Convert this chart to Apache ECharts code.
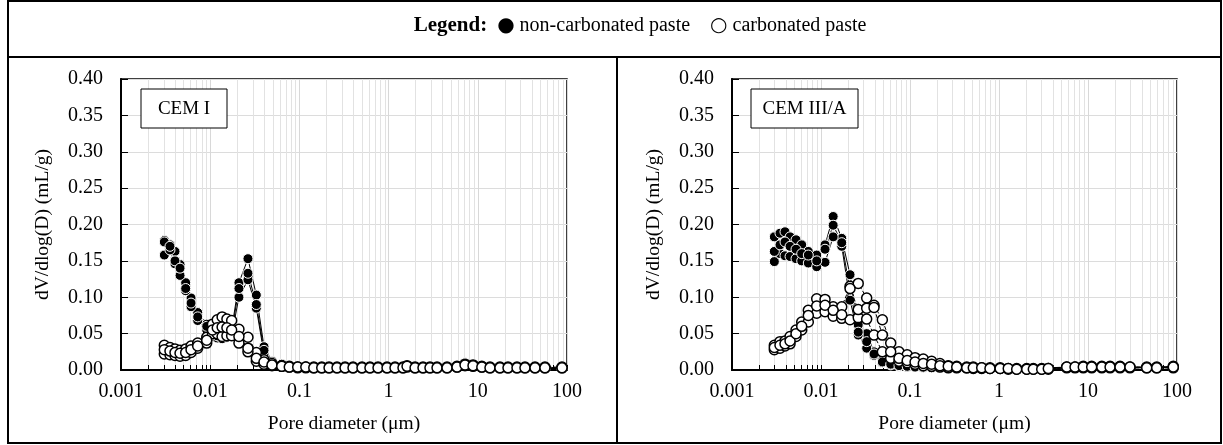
<!DOCTYPE html>
<html><head><meta charset="utf-8">
<script src="https://cdn.jsdelivr.net/npm/echarts@6/dist/echarts.min.js"></script>
<style>html,body{margin:0;padding:0;background:#fff}#c{width:1223px;height:445px}</style>
</head><body><div id="c"></div>
<script>
// ---------------- DATA ----------------
var xTicks = [0.001, 0.01, 0.1, 1, 10, 100];
var yTicks = [0, 0.05, 0.10, 0.15, 0.20, 0.25, 0.30, 0.35, 0.40];
var panelLabels = ['CEM I', 'CEM III/A'];
var legendNames = ['non-carbonated paste', 'carbonated paste'];

// CEM I pore diameters (µm)
var diamCEMI = [0.00306,0.00354,0.00403,0.00459,0.00531,0.0061,0.00724,0.00914,0.0106,0.0120,
  0.0136,0.0154,0.0174,0.0210,0.0265,0.0329,0.0401,0.0493,0.0634,0.077,
  0.0957,0.118,0.145,0.178,0.215,0.264,0.325,0.399,0.503,0.618,
  0.761,0.960,1.18,1.45,1.61,1.98,2.43,2.91,3.49,4.52,
  5.85,7.19,8.84,11.1,13.7,17.7,21.8,27.5,33.8,43.8,
  56.6,87.9];
var ncCEMI_1 = [0.178,0.172,0.163,0.145,0.120,0.099,0.079,0.063,0.053,0.050,0.049,0.050,0.056,0.120,0.153,0.103,0.032,0.012,
  0.008,0.006,0.005,0.004,0.004,0.004,0.003,0.003,0.003,0.003,
  0.003,0.003,0.003,0.003,0.003,0.004,0.005,0.003,0.003,0.004,
  0.002,0.002,0.006,0.010,0.008,0.004,0.003,0.003,0.003,0.003,
  0.003,0.002,0.002,0.003];
var ncCEMI_2 = [0.158,0.165,0.146,0.130,0.109,0.087,0.068,0.055,0.046,0.044,0.043,0.045,0.048,0.100,0.124,0.085,0.022,0.009,
  0.007,0.005,0.004,0.004,0.003,0.003,0.003,0.003,0.002,0.002,
  0.002,0.002,0.002,0.002,0.002,0.003,0.003,0.002,0.002,0.003,
  0.002,0.003,0.004,0.007,0.006,0.003,0.002,0.002,0.002,0.002,
  0.002,0.002,0.002,0.002];
var ncCEMI_3 = [0.176,0.170,0.150,0.140,0.112,0.092,0.073,0.060,0.049,0.047,0.046,0.047,0.052,0.112,0.133,0.090,0.027,0.010,
  0.008,0.006,0.005,0.004,0.004,0.003,0.003,0.003,0.003,0.003,
  0.003,0.003,0.003,0.003,0.003,0.003,0.004,0.003,0.003,0.003,
  0.003,0.002,0.005,0.009,0.007,0.004,0.003,0.003,0.003,0.003,
  0.003,0.002,0.002,0.003];
var cCEMI_1 = [0.034,0.031,0.029,0.027,0.029,0.033,0.037,0.045,0.063,0.069,0.073,0.070,0.068,0.056,0.045,0.024,0.014,0.009,
  0.006,0.005,0.004,0.004,0.004,0.004,0.004,0.004,0.004,0.004,
  0.004,0.004,0.004,0.004,0.004,0.004,0.006,0.004,0.004,0.004,
  0.004,0.004,0.005,0.008,0.007,0.005,0.004,0.004,0.004,0.004,
  0.004,0.004,0.004,0.004];
var cCEMI_2 = [0.022,0.021,0.020,0.019,0.020,0.024,0.030,0.037,0.050,0.050,0.046,0.047,0.047,0.037,0.025,0.012,0.008,0.006,
  0.005,0.004,0.003,0.003,0.003,0.003,0.003,0.003,0.003,0.003,
  0.003,0.003,0.003,0.003,0.003,0.003,0.004,0.003,0.003,0.003,
  0.003,0.003,0.004,0.006,0.005,0.004,0.003,0.003,0.003,0.003,
  0.003,0.003,0.003,0.003];
var cCEMI_3 = [0.028,0.026,0.024,0.023,0.024,0.028,0.033,0.041,0.055,0.058,0.059,0.058,0.055,0.046,0.030,0.016,0.011,0.007,
  0.005,0.004,0.004,0.004,0.003,0.003,0.003,0.003,0.003,0.003,
  0.003,0.003,0.003,0.003,0.003,0.003,0.005,0.003,0.003,0.003,
  0.003,0.003,0.004,0.007,0.006,0.004,0.003,0.003,0.003,0.003,
  0.003,0.003,0.003,0.003];

// CEM III/A pore diameters (µm)
var diamCEMIII = [0.00299,0.00346,0.00394,0.00449,0.00524,0.00607,0.0072,0.00895,0.0111,0.0137,
  0.0171,0.0212,0.0262,0.0326,0.0394,0.0489,0.0607,0.0752,0.093,0.114,
  0.141,0.175,0.217,0.269,0.335,0.434,0.514,0.639,0.792,1.03,
  1.27,1.58,2.05,2.43,3.02,3.58,5.77,7.15,8.85,11.0,
  14.3,17.7,22.9,29.6,45.7,59.2,90.8];
var ncCEMIII_1 = [0.183,0.188,0.190,0.183,0.179,0.172,0.163,0.158,0.172,0.211,
  0.181,0.131,0.062,0.050,0.025,0.013,0.009,0.007,0.006,0.005,
  0.004,0.004,0.004,0.003,0.003,0.003,0.003,0.003,0.002,0.002,
  0.002,0.002,0.002,0.002,0.002,0.003,0.004,0.004,0.005,0.005,
  0.005,0.005,0.005,0.004,0.004,0.004,0.005];
var ncCEMIII_2 = [0.149,0.160,0.157,0.156,0.153,0.150,0.147,0.142,0.148,0.183,
  0.170,0.096,0.048,0.030,0.020,0.010,0.007,0.005,0.004,0.004,
  0.003,0.003,0.003,0.002,0.002,0.002,0.002,0.002,0.001,0.001,
  0.001,0.001,0.001,0.001,0.001,0.002,0.003,0.003,0.003,0.003,
  0.003,0.003,0.003,0.003,0.003,0.003,0.003];
var ncCEMIII_3 = [0.163,0.172,0.176,0.170,0.166,0.160,0.158,0.150,0.166,0.199,
  0.175,0.110,0.052,0.039,0.022,0.011,0.008,0.006,0.005,0.004,
  0.004,0.003,0.003,0.003,0.002,0.002,0.002,0.002,0.002,0.002,
  0.001,0.001,0.001,0.001,0.001,0.002,0.003,0.004,0.004,0.004,
  0.004,0.004,0.004,0.004,0.003,0.003,0.004];
var cCEMIII_1 = [0.034,0.039,0.040,0.046,0.055,0.066,0.082,0.098,0.097,0.087,
  0.087,0.115,0.119,0.099,0.089,0.069,0.037,0.025,0.021,0.017,
  0.015,0.012,0.009,0.006,0.005,0.004,0.004,0.003,0.003,0.003,
  0.002,0.002,0.002,0.002,0.002,0.002,0.004,0.004,0.005,0.005,
  0.005,0.005,0.005,0.004,0.004,0.004,0.005];
var cCEMIII_2 = [0.028,0.030,0.033,0.036,0.046,0.055,0.066,0.078,0.080,0.074,
  0.071,0.069,0.072,0.070,0.048,0.025,0.016,0.012,0.010,0.008,
  0.006,0.005,0.004,0.003,0.003,0.003,0.002,0.002,0.002,0.002,
  0.001,0.001,0.001,0.001,0.001,0.001,0.003,0.003,0.003,0.003,
  0.003,0.003,0.003,0.003,0.003,0.003,0.003];
var cCEMIII_3 = [0.031,0.034,0.036,0.040,0.050,0.060,0.075,0.088,0.089,0.082,
  0.076,0.112,0.083,0.085,0.086,0.048,0.025,0.016,0.013,0.011,
  0.009,0.008,0.006,0.005,0.004,0.003,0.003,0.003,0.002,0.002,
  0.002,0.001,0.001,0.001,0.001,0.002,0.004,0.004,0.004,0.004,
  0.004,0.004,0.004,0.004,0.003,0.003,0.004];

// ---------------- CHART ----------------
var FONT = '"Liberation Serif", "DejaVu Serif", serif';
var chart = echarts.init(document.getElementById('c'), null, {renderer: 'canvas'});

function pairs(xs, ys) { return xs.map(function (x, i) { return [x, ys[i]]; }); }

// minor decade positions (2..9 x 10^e) for log-axis minor grid / ticks
var minorVals = [];
for (var e = -3; e <= 1; e++) for (var k = 2; k <= 9; k++) minorVals.push([Number((k * Math.pow(10, e)).toPrecision(3)), 0]);

function minorSeries(idx) {
  return {
    type: 'custom', xAxisIndex: idx, yAxisIndex: idx, z: 1, silent: true,
    encode: {x: 0, y: 1},
    data: minorVals,
    renderItem: function (params, api) {
      var p = api.coord([api.value(0), 0]);
      var cs = params.coordSys;
      var x = Math.round(p[0]) + 0.5;
      return {type: 'group', children: [
        {type: 'line', shape: {x1: x, y1: cs.y, x2: x, y2: cs.y + cs.height}, style: {stroke: '#e2e2e2', lineWidth: 1}},
        {type: 'line', z2: 5, shape: {x1: x, y1: cs.y + cs.height, x2: x, y2: cs.y + cs.height - 5}, style: {stroke: '#000', lineWidth: 1}}
      ]};
    }
  };
}

function dataSeries(idx, xs, ys, filled, name) {
  return {
    name: name, type: 'line', xAxisIndex: idx, yAxisIndex: idx, z: filled ? 3 : 4,
    data: pairs(xs, ys), symbol: 'circle', symbolSize: 10, showSymbol: true, showAllSymbol: true,
    lineStyle: {color: '#000', width: 1, type: filled ? 'solid' : 'dashed'},
    itemStyle: filled ? {color: '#000', borderColor: '#fff', borderWidth: 1}
                      : {color: '#fff', borderColor: '#000', borderWidth: 1.5},
    emphasis: {disabled: true}, animation: false
  };
}

function xAxisCfg(idx) {
  return {
    type: 'log', logBase: 10, gridIndex: idx, min: xTicks[0], max: xTicks[xTicks.length - 1],
    name: 'Pore diameter (\u03bcm)', nameLocation: 'middle', nameGap: 44,
    nameTextStyle: {fontFamily: FONT, fontSize: 19.5, color: '#000'},
    axisLine: {lineStyle: {color: '#000', width: 2}},
    axisTick: {inside: true, length: 5, lineStyle: {color: '#000'}},
    axisLabel: {fontFamily: FONT, fontSize: 20, color: '#000', margin: 12,
      formatter: function (v) { return String(Number(Number(v).toPrecision(3))); }},
    splitLine: {show: true, lineStyle: {color: '#d8d8d8', width: 1}}
  };
}
function yAxisCfg(idx) {
  return {
    type: 'value', gridIndex: idx, min: yTicks[0], max: yTicks[yTicks.length - 1], interval: 0.05,
    name: 'dV/dlog(D) (mL/g)', nameLocation: 'middle', nameGap: 68,
    nameTextStyle: {fontFamily: FONT, fontSize: 19.5, color: '#000'},
    axisLine: {lineStyle: {color: '#000', width: 2}},
    axisTick: {inside: true, length: 7, lineStyle: {color: '#000'}},
    axisLabel: {fontFamily: FONT, fontSize: 20, color: '#000', margin: 18,
      formatter: function (v) { return v.toFixed(2); }},
    splitLine: {show: true, lineStyle: {color: '#dcdcdc', width: 1}}
  };
}

var series = [
  minorSeries(0), minorSeries(1),
  dataSeries(0, diamCEMI, ncCEMI_1, true, legendNames[0]),
  dataSeries(0, diamCEMI, ncCEMI_2, true, legendNames[0]),
  dataSeries(0, diamCEMI, ncCEMI_3, true, legendNames[0]),
  dataSeries(0, diamCEMI, cCEMI_1, false, legendNames[1]),
  dataSeries(0, diamCEMI, cCEMI_2, false, legendNames[1]),
  dataSeries(0, diamCEMI, cCEMI_3, false, legendNames[1]),
  dataSeries(1, diamCEMIII, ncCEMIII_1, true, legendNames[0]),
  dataSeries(1, diamCEMIII, ncCEMIII_2, true, legendNames[0]),
  dataSeries(1, diamCEMIII, ncCEMIII_3, true, legendNames[0]),
  dataSeries(1, diamCEMIII, cCEMIII_1, false, legendNames[1]),
  dataSeries(1, diamCEMIII, cCEMIII_2, false, legendNames[1]),
  dataSeries(1, diamCEMIII, cCEMIII_3, false, legendNames[1])
];

function labelBox(x, w, text) {
  return [
    {type: 'rect', z: 100, shape: {x: x, y: 89, width: w, height: 39}, style: {fill: '#fff', stroke: '#000', lineWidth: 1}},
    {type: 'text', z: 101, x: x + w / 2, y: 109, style: {text: text, font: '19px ' + FONT, fill: '#000', align: 'center', verticalAlign: 'middle'}}
  ];
}

chart.setOption({
  backgroundColor: '#fff',
  animation: false,
  grid: [
    {left: 121, top: 79, width: 446, height: 291, show: true, borderColor: '#000', borderWidth: 1.5, backgroundColor: 'transparent', containLabel: false},
    {left: 732, top: 79, width: 445, height: 291, show: true, borderColor: '#000', borderWidth: 1.5, backgroundColor: 'transparent', containLabel: false}
  ],
  xAxis: [xAxisCfg(0), xAxisCfg(1)],
  yAxis: [yAxisCfg(0), yAxisCfg(1)],
  series: series,
  graphic: [
    {type: 'rect', z: 50, shape: {x: 8, y: 1, width: 1213, height: 442}, style: {fill: 'none', stroke: '#000', lineWidth: 2}},
    {type: 'line', z: 50, shape: {x1: 8, y1: 57, x2: 1221, y2: 57}, style: {stroke: '#000', lineWidth: 2}},
    {type: 'line', z: 50, shape: {x1: 617, y1: 57, x2: 617, y2: 443}, style: {stroke: '#000', lineWidth: 2}},
    {type: 'text', z: 50, x: 640, y: 26, style: {
      text: '{b|Legend:}  {s|\u25CF} ' + legendNames[0] + '    {s|\u25CB} ' + legendNames[1],
      font: '20px ' + FONT, fill: '#000', align: 'center', verticalAlign: 'middle',
      rich: {b: {fontWeight: 'bold', fontFamily: FONT, fontSize: 21},
             s: {fontFamily: '"DejaVu Sans", sans-serif', fontSize: 20}}
    }}
  ].concat(labelBox(141, 86, panelLabels[0])).concat(labelBox(751, 107, panelLabels[1]))
});
</script>
</body></html>
